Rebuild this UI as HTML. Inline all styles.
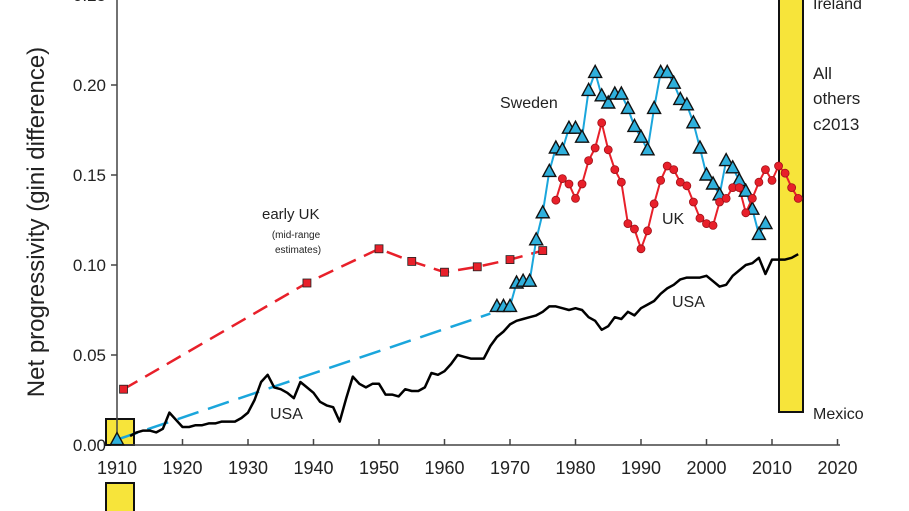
<!DOCTYPE html>
<html><head><meta charset="utf-8"><style>
html,body{margin:0;padding:0;background:#fff;}
svg{display:block;font-family:"Liberation Sans",Arial,sans-serif;}
</style></head><body>
<svg id="chart" width="909" height="511" viewBox="0 0 909 511">
<g id="bg"></g>
<g id="axes"></g>
<g id="series"></g>
<g id="labels"></g>
</svg>
<script>
const xTicks=[1910,1920,1930,1940,1950,1960,1970,1980,1990,2000,2010,2020];
const yTicks=[0,0.05,0.10,0.15,0.20,0.25];
const swedenYears=[1968,1969,1970,1971,1972,1973,1974,1975,1976,1977,1978,1979,1980,1981,1982,1983,1984,1985,1986,1987,1988,1989,1990,1991,1992,1993,1994,1995,1996,1997,1998,1999,2000,2001,2002,2003,2004,2005,2006,2007,2008,2009];
const swedenVals=[0.077,0.077,0.077,0.090,0.091,0.091,0.114,0.129,0.152,0.165,0.164,0.176,0.176,0.171,0.197,0.207,0.194,0.190,0.195,0.195,0.187,0.177,0.171,0.164,0.187,0.207,0.207,0.201,0.192,0.189,0.179,0.165,0.150,0.145,0.139,0.158,0.154,0.147,0.141,0.131,0.117,0.123];
const ukStartYear=1977;
const ukVals=[0.136,0.148,0.145,0.137,0.145,0.158,0.165,0.179,0.164,0.153,0.146,0.123,0.120,0.109,0.119,0.134,0.147,0.155,0.153,0.146,0.144,0.135,0.126,0.123,0.122,0.135,0.137,0.143,0.143,0.129,0.137,0.146,0.153,0.147,0.155,0.151,0.143,0.137];
const earlyUkYears=[1911,1939,1950,1955,1960,1965,1970,1975];
const earlyUkVals=[0.031,0.090,0.109,0.102,0.096,0.099,0.103,0.108];
const swedenEarlyYears=[1910,1967];
const swedenEarlyVals=[0.003,0.073];
const usaStartYear=1912;
const usaVals=[0.005,0.007,0.008,0.008,0.007,0.009,0.018,0.014,0.010,0.010,0.011,0.011,0.012,0.012,0.013,0.013,0.013,0.015,0.018,0.025,0.035,0.039,0.032,0.031,0.029,0.026,0.035,0.032,0.029,0.024,0.022,0.021,0.013,0.026,0.038,0.034,0.032,0.034,0.034,0.028,0.028,0.027,0.031,0.030,0.030,0.032,0.040,0.039,0.041,0.045,0.050,0.049,0.048,0.048,0.048,0.055,0.060,0.063,0.067,0.069,0.070,0.071,0.072,0.074,0.077,0.077,0.076,0.075,0.076,0.075,0.071,0.069,0.064,0.066,0.071,0.070,0.074,0.072,0.076,0.078,0.080,0.084,0.087,0.089,0.092,0.093,0.093,0.093,0.094,0.091,0.088,0.089,0.094,0.097,0.100,0.101,0.104,0.095,0.103,0.103,0.103,0.104,0.106];

const NS="http://www.w3.org/2000/svg";
const X=y=>117+(y-1910)*6.55;
const Y=v=>445-v*1800;
function mk(tag,attrs,parent){const e=document.createElementNS(NS,tag);for(const k in attrs)e.setAttribute(k,attrs[k]);document.getElementById(parent).appendChild(e);return e;}
function txt(s,x,y,size,parent,anchor){const t=mk('text',{x:x,y:y,'font-size':size,fill:'#222','text-anchor':anchor||'start'},parent);t.textContent=s;return t;}

let b=mk('rect',{x:779,y:-2,width:24,height:414,fill:'#f7e43a',stroke:'#111','stroke-width':2},'bg');


b=mk('rect',{x:106,y:419,width:28,height:26,fill:'#f7e43a',stroke:'#111','stroke-width':2},'bg');


b=mk('rect',{x:106,y:483,width:28,height:30,fill:'#f7e43a',stroke:'#111','stroke-width':2},'bg');



let a=mk('line',{x1:117,y1:-5,x2:117,y2:445,stroke:'#444','stroke-width':1.5},'axes');


a=mk('line',{x1:117,y1:445,x2:840,y2:445,stroke:'#444','stroke-width':1.5},'axes');


xTicks.forEach(t=>{
  let l=mk('line',{x1:X(t),y1:445,x2:X(t),y2:439,stroke:'#444','stroke-width':1.5},'axes');
  
  
  let tx=txt(String(t),X(t),474,18,'axes','middle');
  
  
});
yTicks.forEach(t=>{
  let l=mk('line',{x1:111,y1:Y(t),x2:117,y2:Y(t),stroke:'#444','stroke-width':1.5},'axes');
  
  
  let tx=txt(t.toFixed(2),106,Y(t)+6,17,'axes','end');
  
  
});
let yl=txt('Net progressivity (gini difference)',0,0,24,'axes','middle');
yl.setAttribute('transform','translate(44,222) rotate(-90)');



function pts(xs,vs){return xs.map((x,i)=>X(x)+','+Y(vs[i])).join(' ');}
let p=mk('polyline',{points:pts(earlyUkYears,earlyUkVals),fill:'none',stroke:'#e8202a','stroke-width':2.5,'stroke-dasharray':'16,9'},'series');


p=mk('polyline',{points:pts(swedenEarlyYears,swedenEarlyVals),fill:'none',stroke:'#1aa6dc','stroke-width':2.5,'stroke-dasharray':'22,10'},'series');


const usaYears=usaVals.map((v,i)=>usaStartYear+i);
p=mk('polyline',{points:pts(usaYears,usaVals),fill:'none',stroke:'#000','stroke-width':2.5,'stroke-linejoin':'round'},'series');


p=mk('polyline',{points:pts(swedenYears,swedenVals),fill:'none',stroke:'#1aa6dc','stroke-width':2},'series');


const ukYears=ukVals.map((v,i)=>ukStartYear+i);
p=mk('polyline',{points:pts(ukYears,ukVals),fill:'none',stroke:'#e8202a','stroke-width':2},'series');


earlyUkYears.forEach((yr,i)=>{
  const r=mk('rect',{x:X(yr)-4,y:Y(earlyUkVals[i])-4,width:8,height:8,fill:'#e8202a',stroke:'#222','stroke-width':0.8},'series');
  
  
});
function tri(x,y,name){
  const t=mk('polygon',{points:`${x},${y-7} ${x-6.5},${y+5} ${x+6.5},${y+5}`,fill:'#2fb0dc',stroke:'#111','stroke-width':1.4},'series');
  
  
}
swedenEarlyYears.slice(0,1).forEach((yr,i)=>tri(X(yr),Y(swedenEarlyVals[i]),'sweden-1910-point'));
swedenYears.forEach((yr,i)=>tri(X(yr),Y(swedenVals[i]),'sweden-point'));
ukYears.forEach((yr,i)=>{
  const c=mk('circle',{cx:X(yr),cy:Y(ukVals[i]),r:4,fill:'#e8202a',stroke:'#a01018','stroke-width':0.8},'series');
  
  
});
const L=[['Sweden',500,108,16,'sweden-label'],['UK',662,224,16,'uk-label'],['USA',672,307,16,'usa-label-right'],['USA',270,419,16,'usa-label-left'],['early UK',262,219,15,'early-uk-label'],['Ireland',813,9,16,'ireland-label'],['All',813,79,17,'all-label'],['others',813,104,17,'others-label'],['c2013',813,130,17,'c2013-label'],['Mexico',813,419,16,'mexico-label']];
L.forEach(l=>{const t=txt(l[0],l[1],l[2],l[3],'labels');});
let s=txt('(mid-range',296,238,10,'labels','middle');


s=txt('estimates)',298,253,10,'labels','middle');


</script>
</body></html>
